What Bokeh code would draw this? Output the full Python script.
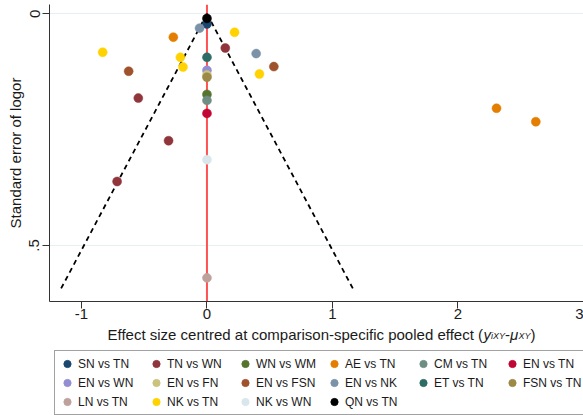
from bokeh.plotting import figure
from bokeh.layouts import column
from bokeh.models import (Range1d, Legend, LegendItem, Label, Span, FixedTicker,
                          CustomJSTickFormatter)
from bokeh.embed import file_html
from bokeh.resources import INLINE

# ---- data (effect centred, standard error) ----
SN_TN_X = [0.0];   SN_TN_SE = [0.022]
TN_WN_X = [0.146, -0.547, -0.306, -0.716]; TN_WN_SE = [0.074, 0.182, 0.274, 0.362]
WN_WM_X = [0.0];   WN_WM_SE = [0.174]
AE_TN_X = [-0.268, 2.307, 2.62]; AE_TN_SE = [0.0505, 0.204, 0.233]
CM_TN_X = [0.0];   CM_TN_SE = [0.187]
EN_TN_X = [0.0];   EN_TN_SE = [0.215]
EN_WN_X = [0.0];   EN_WN_SE = [0.122]
EN_FN_X = [0.0];   EN_FN_SE = [0.132]
EN_FSN_X = [-0.624, 0.533]; EN_FSN_SE = [0.124, 0.114]
EN_NK_X = [-0.059, 0.392];  EN_NK_SE = [0.031, 0.086]
ET_TN_X = [0.0];   ET_TN_SE = [0.094]
FSN_TN_X = [0.0];  FSN_TN_SE = [0.137]
LN_TN_X = [0.0];   LN_TN_SE = [0.570]
NK_TN_X = [0.22, -0.831, -0.212, -0.191, 0.418]; NK_TN_SE = [0.040, 0.083, 0.094, 0.115, 0.130]
NK_WN_X = [0.0];   NK_WN_SE = [0.315]
QN_TN_X = [0.0];   QN_TN_SE = [0.010]

LABELS = ["SN vs TN", "TN vs WN", "WN vs WM", "AE vs TN", "CM vs TN", "EN vs TN",
          "EN vs WN", "EN vs FN", "EN vs FSN", "EN vs NK", "ET vs TN", "FSN vs TN",
          "LN vs TN", "NK vs TN", "NK vs WN", "QN vs TN"]
COLORS = ["#1a476f", "#90353b", "#55752f", "#e37e00", "#6e8e84", "#c10534",
          "#938dd2", "#cac27e", "#a0522d", "#7b92a8", "#2d6d66", "#9c8847",
          "#bfa19c", "#ffd200", "#d9e6eb", "#000000"]
XS = [SN_TN_X, TN_WN_X, WN_WM_X, AE_TN_X, CM_TN_X, EN_TN_X, EN_WN_X, EN_FN_X,
      EN_FSN_X, EN_NK_X, ET_TN_X, FSN_TN_X, LN_TN_X, NK_TN_X, NK_WN_X, QN_TN_X]
SES = [SN_TN_SE, TN_WN_SE, WN_WM_SE, AE_TN_SE, CM_TN_SE, EN_TN_SE, EN_WN_SE, EN_FN_SE,
       EN_FSN_SE, EN_NK_SE, ET_TN_SE, FSN_TN_SE, LN_TN_SE, NK_TN_SE, NK_WN_SE, QN_TN_SE]

FUNNEL_SE = [0.0, 0.6]
FUNNEL_Z = 1.96
X_TICKS = [-1, 0, 1, 2, 3]
Y_TICKS = [0, 0.5]

FONT = "Liberation Sans"
TXT = "#1a1a1a"
W = 583
H1 = 325
H2 = 415 - H1
LEFT = 49

# ---------------- main plot ----------------
p = figure(width=W, height=H1,
           x_range=Range1d(-1.2546, 3.0), y_range=Range1d(0.621, -0.02),
           output_backend="svg", toolbar_location=None,
           min_border_left=LEFT, min_border_right=0, min_border_top=4, min_border_bottom=24)
p.outline_line_color = None
p.background_fill_color = "white"
p.border_fill_color = "white"

for ax in (p.xaxis[0], p.yaxis[0]):
    ax.major_tick_out = 7
    ax.major_tick_in = 0
    ax.minor_tick_line_color = None
    ax.axis_line_color = "#333333"
    ax.major_tick_line_color = "#333333"
    ax.major_label_text_font = FONT
    ax.major_label_text_font_size = "15px"
    ax.major_label_text_color = TXT
    ax.axis_label_text_font = FONT
    ax.axis_label_text_font_size = "15px"
    ax.axis_label_text_font_style = "normal"
    ax.axis_label_text_color = TXT

p.xaxis.ticker = FixedTicker(ticks=X_TICKS)
p.xaxis.formatter = CustomJSTickFormatter(code="return String(tick);")
p.xaxis.major_label_standoff = 0
p.yaxis.ticker = FixedTicker(ticks=Y_TICKS)
p.yaxis.formatter = CustomJSTickFormatter(code="return tick == 0 ? '0' : String(tick).replace(/^0\\./, '.');")
p.yaxis.major_label_orientation = "vertical"
p.yaxis.major_label_standoff = 3
p.yaxis.axis_label = "Standard error of logor"
p.yaxis.axis_label_standoff = 3

p.xgrid.visible = False
p.ygrid.ticker = FixedTicker(ticks=Y_TICKS)
p.ygrid.grid_line_color = "#e6eff1"
p.ygrid.grid_line_width = 1

p.add_layout(Span(location=0, dimension="height", line_color="#ff5252",
                  line_width=2, level="underlay"))
p.line([-FUNNEL_Z * s for s in FUNNEL_SE], FUNNEL_SE, line_color="black",
       line_width=1.8, line_dash="5 4")
p.line([FUNNEL_Z * s for s in FUNNEL_SE], FUNNEL_SE, line_color="black",
       line_width=1.8, line_dash="5 4")

for lab, col, xs, ses in zip(LABELS, COLORS, XS, SES):
    p.scatter(xs, ses, size=9, fill_color=col, line_color=col, line_width=0.5)

# ---------------- x title + legend strip (frame aligned with main plot) ----------------
p2 = figure(width=W, height=H2, x_range=Range1d(LEFT, W), y_range=Range1d(H2, 0),
            x_axis_type=None, y_axis_type=None,
            output_backend="svg", toolbar_location=None,
            min_border_left=LEFT, min_border_right=0, min_border_top=0, min_border_bottom=0)
p2.outline_line_color = None
p2.background_fill_color = "white"
p2.border_fill_color = "white"
p2.grid.visible = False

base = dict(text_font=FONT, text_color=TXT, text_baseline="alphabetic", text_align="left")
ty = 334 - H1
p2.add_layout(Label(x=107, y=ty, text="Effect size centred at comparison-specific pooled effect (",
                    text_font_size="15px", **base))
p2.add_layout(Label(x=483, y=ty, text="y", text_font_size="15px", text_font_style="italic", **base))
p2.add_layout(Label(x=490.5, y=ty + 1.5, text="iXY", text_font_size="9px", text_font_style="italic", **base))
p2.add_layout(Label(x=504.5, y=ty, text="-", text_font_size="15px", **base))
p2.add_layout(Label(x=509.5, y=ty, text="\u03bc", text_font_size="15px", text_font_style="italic", **base))
p2.add_layout(Label(x=518, y=ty + 1.5, text="XY", text_font_size="9px", text_font_style="italic", **base))
p2.add_layout(Label(x=530, y=ty, text=")", text_font_size="15px", **base))

NAN = float("nan")
items = []
for lab, col in zip(LABELS, COLORS):
    r = p2.scatter([NAN], [NAN], size=9, fill_color=col, line_color=col)
    items.append(LegendItem(label=lab, renderers=[r]))

legend = Legend(items=items, ncols=6, orientation="horizontal", location=(5, 0),
                label_text_font=FONT, label_text_font_size="12px",
                label_text_color=TXT, label_standoff=2,
                glyph_width=18, glyph_height=19, label_height=14, label_width=69,
                spacing=0, padding=3, margin=0,
                border_line_color="#444444", border_line_width=1,
                background_fill_color="white", background_fill_alpha=1)
p2.add_layout(legend)

layout = column(p, p2, spacing=0)
open("out.html", "w").write(file_html(layout, INLINE))
